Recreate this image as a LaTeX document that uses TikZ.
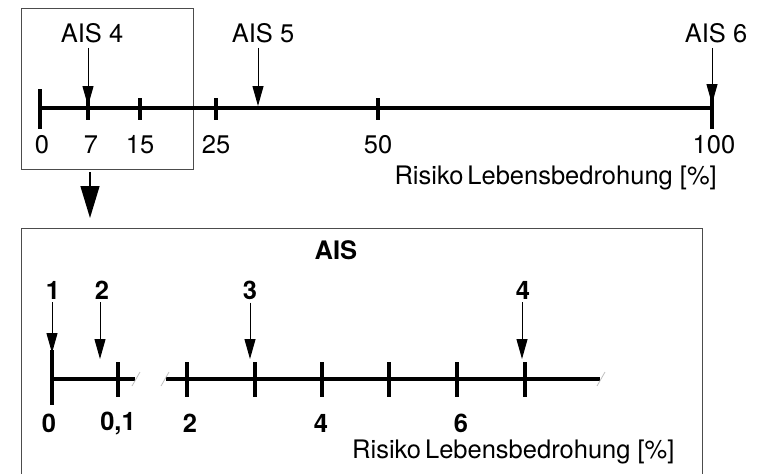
\documentclass[tikz,border=0pt]{standalone}
\usepackage{fontspec}
\setmainfont{TeX Gyre Heros}
\usetikzlibrary{arrows.meta}
\begin{document}
\begin{tikzpicture}[x=1pt,y=-1pt,
  lbl/.style={inner sep=0pt,font=\fontsize{25.5}{30}\selectfont},
  blbl/.style={inner sep=0pt,font=\fontsize{25.5}{30}\selectfont\bfseries},
  axis/.style={line width=3.5pt},
  tick/.style={line width=3.8pt},
  frame/.style={draw=black!70,line width=1pt},
  pointer/.style={line width=1pt,-{Triangle[length=20pt,width=11pt]}},
  bigpointer/.style={line width=1.4pt,-{Triangle[length=32pt,width=19pt]}},
  breakmark/.style={draw=black!25,line width=0.8pt}]
\useasboundingbox (0,0) rectangle (769,474);
\clip (0,0) rectangle (769,474);

% ---- overall scale 0 ... 100 %
\draw[frame] (21,8) rectangle (193,169);
\coordinate (t0) at (40,108);
\coordinate (t100) at (712,108);
\draw[axis] (t0) -- (t100);
\draw[tick] (40,89) -- (40,129);
\draw[tick] (712,94) -- (712,129);
\foreach \x/\n in {88/7,140/15,216/25,378/50}
  \draw[tick] (\x,98) coordinate (tk\n) -- (\x,120);

\node[lbl] (n0)   at (42,145)  {0};
\node[lbl] (n7)   at (91,145)  {7};
\node[lbl] (n15)  at (140,145) {15};
\node[lbl] (n25)  at (216,145) {25};
\node[lbl] (n50)  at (378,145) {50};
\node[lbl] (n100) at (714,145) {100};
\node[lbl,anchor=east] (xlab1) at (717,178) {Risiko\hspace{4pt}Lebensbedrohung [\%]};

\node[lbl] (ais4) at (92,33)  {AIS 4};
\node[lbl] (ais5) at (263,33) {AIS 5};
\node[lbl] (ais6) at (716,33) {AIS 6};
\coordinate (p4) at (88,106);
\coordinate (p5) at (258,106);
\coordinate (p6) at (712,104);
\draw[pointer] (ais4.south -| p4) ++(0,5) -- (p4);
\draw[pointer] (ais5.south -| p5) ++(0,5) -- (p5);
\draw[pointer] (ais6.south -| p6) ++(0,5) -- (p6);

% ---- zoom arrow
\coordinate (z1) at (90,172);
\coordinate (z2) at (90,218);
\draw[bigpointer] (z1) -- (z2);

% ---- detailed scale
\draw[frame] (21,228) rectangle (702,500);
\node[blbl] (ais) at (336,250) {AIS};

\draw[axis] (52,379) -- (135,379);
\draw[axis] (166,379) -- (600,379);
\draw[tick] (52,350) -- (52,405);
\foreach \x in {118,187,255,322,389,457,525}
  \draw[tick] (\x,362) -- (\x,397);
\draw[breakmark] (132,386) -- (140,372);
\draw[breakmark] (161,386) -- (169,372);
\draw[breakmark] (597,386) -- (605,372);

\node[blbl] (m0)  at (49,423)  {0};
\node[blbl] (m01) at (118,423) {0,1};
\node[blbl] (m2)  at (190,423) {2};
\node[blbl] (m4)  at (321,423) {4};
\node[blbl] (m6)  at (461,423) {6};
\node[lbl,anchor=west] (xlab2) at (352,452) {Risiko\hspace{4pt}Lebensbedrohung [\%]};

\node[blbl] (a1) at (53,290)  {1};
\node[blbl] (a2) at (102,290) {2};
\node[blbl] (a3) at (250,290) {3};
\node[blbl] (a4) at (523,290) {4};
\coordinate (q1) at (52,353);
\coordinate (q2) at (100,359);
\coordinate (q3) at (250,359);
\coordinate (q4) at (522,359);
\draw[pointer] (a1.south -| q1) ++(0,3) -- (q1);
\draw[pointer] (a2.south -| q2) ++(0,3) -- (q2);
\draw[pointer] (a3.south -| q3) ++(0,3) -- (q3);
\draw[pointer] (a4.south -| q4) ++(0,3) -- (q4);
\end{tikzpicture}
\end{document}
